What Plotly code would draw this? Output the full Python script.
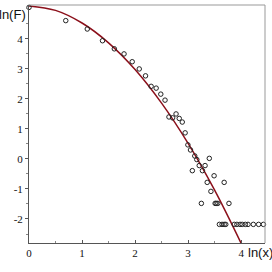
import plotly.graph_objects as go

# observed data (ln(x), ln(F))
ln_x = [0.0, 0.693, 1.099, 1.386, 1.609, 1.792, 1.946, 2.079, 2.197, 2.303,
        2.398, 2.485, 2.565, 2.639, 2.708, 2.773, 2.833, 2.890, 2.944, 2.996,
        3.045, 3.126, 3.164, 3.08, 3.21, 3.27, 3.32, 3.40, 3.49, 3.36,
        3.68, 3.43, 3.25, 3.51, 3.53, 3.56, 3.77,
        3.59, 3.64, 3.68, 3.71, 3.87, 3.92, 3.98, 4.02, 4.08, 4.13, 4.23, 4.33, 4.42]
ln_F = [5.05, 4.61, 4.33, 3.94, 3.67, 3.50, 3.24, 3.00, 2.77, 2.42,
        2.36, 2.16, 1.96, 1.40, 1.37, 1.50, 1.35, 1.23, 0.87, 0.47,
        0.30, 0.10, -0.02, -0.39, -0.22, -0.39, -0.22, 0.02, -0.56, -0.78,
        -0.78, -1.08, -1.48, -1.48, -1.48, -1.48, -1.48,
        -2.18, -2.18, -2.18, -2.18, -2.18, -2.18, -2.18, -2.18, -2.18, -2.18, -2.18, -2.18, -2.18]

# fitted curve
fit_x = [0.0, 0.5, 1.0, 1.5, 2.0, 2.5, 3.0, 3.5, 4.0]
fit_y = [5.10, 4.95, 4.53, 3.87, 2.98, 1.86, 0.52, -1.04, -2.81]

x_ticks = [0, 1, 2, 3, 4]
y_ticks = [-2, -1, 0, 1, 2, 3, 4]

fig = go.Figure()
fig.add_trace(go.Scatter(x=fit_x, y=fit_y, mode="lines",
                         line=dict(color="#8b0f1a", width=1.5, shape="spline"),
                         hoverinfo="skip", cliponaxis=True))
fig.add_trace(go.Scatter(x=ln_x, y=ln_F, mode="markers", cliponaxis=False,
                         marker=dict(symbol="circle-open", size=4.5,
                                     color="#222", line=dict(width=1))))

tickfont = dict(family="Liberation Serif", size=11, color="#111")
fig.update_layout(
    width=272, height=272,
    margin=dict(l=29, r=7, t=5, b=29, autoexpand=False),
    paper_bgcolor="white", plot_bgcolor="white",
    showlegend=False,
    xaxis=dict(range=[0, 4.45], tickvals=x_ticks, ticktext=[str(v) for v in x_ticks],
               automargin=False,
               showgrid=False, zeroline=False, showline=True, linecolor="#555",
               linewidth=1, ticks="inside", ticklen=3, tickcolor="#555",
               tickfont=tickfont,
               minor=dict(dtick=0.5, ticks="inside", ticklen=2, tickcolor="#888")),
    yaxis=dict(range=[-2.8, 5.13], tickvals=y_ticks, ticktext=[str(v) for v in y_ticks],
               automargin=False,
               showgrid=False, zeroline=False, showline=True, linecolor="#555",
               linewidth=1, ticks="outside", ticklen=3, tickcolor="#555",
               tickfont=tickfont,
               minor=dict(dtick=0.5, ticks="outside", ticklen=2, tickcolor="#888")),
    shapes=[
        dict(type="line", xref="paper", yref="paper", x0=0, x1=1, y0=1, y1=1,
             line=dict(color="#999", width=1)),
        dict(type="line", xref="paper", yref="paper", x0=1, x1=1, y0=0, y1=1,
             line=dict(color="#999", width=1)),
    ],
    annotations=[
        dict(text="ln(F)", xref="paper", yref="paper", x=-0.005, y=0.962,
             xanchor="right", yanchor="middle", showarrow=False,
             font=dict(family="Liberation Sans", size=13, color="#111")),
        dict(text="ln(x)", xref="paper", yref="paper", x=0.92, y=-0.038,
             xanchor="left", yanchor="middle", showarrow=False,
             font=dict(family="Liberation Sans", size=13, color="#111")),
    ],
)
fig.write_html("out.html", config={"displayModeBar": False},
               post_script="document.body.style.margin='0';document.body.style.padding='0';")
